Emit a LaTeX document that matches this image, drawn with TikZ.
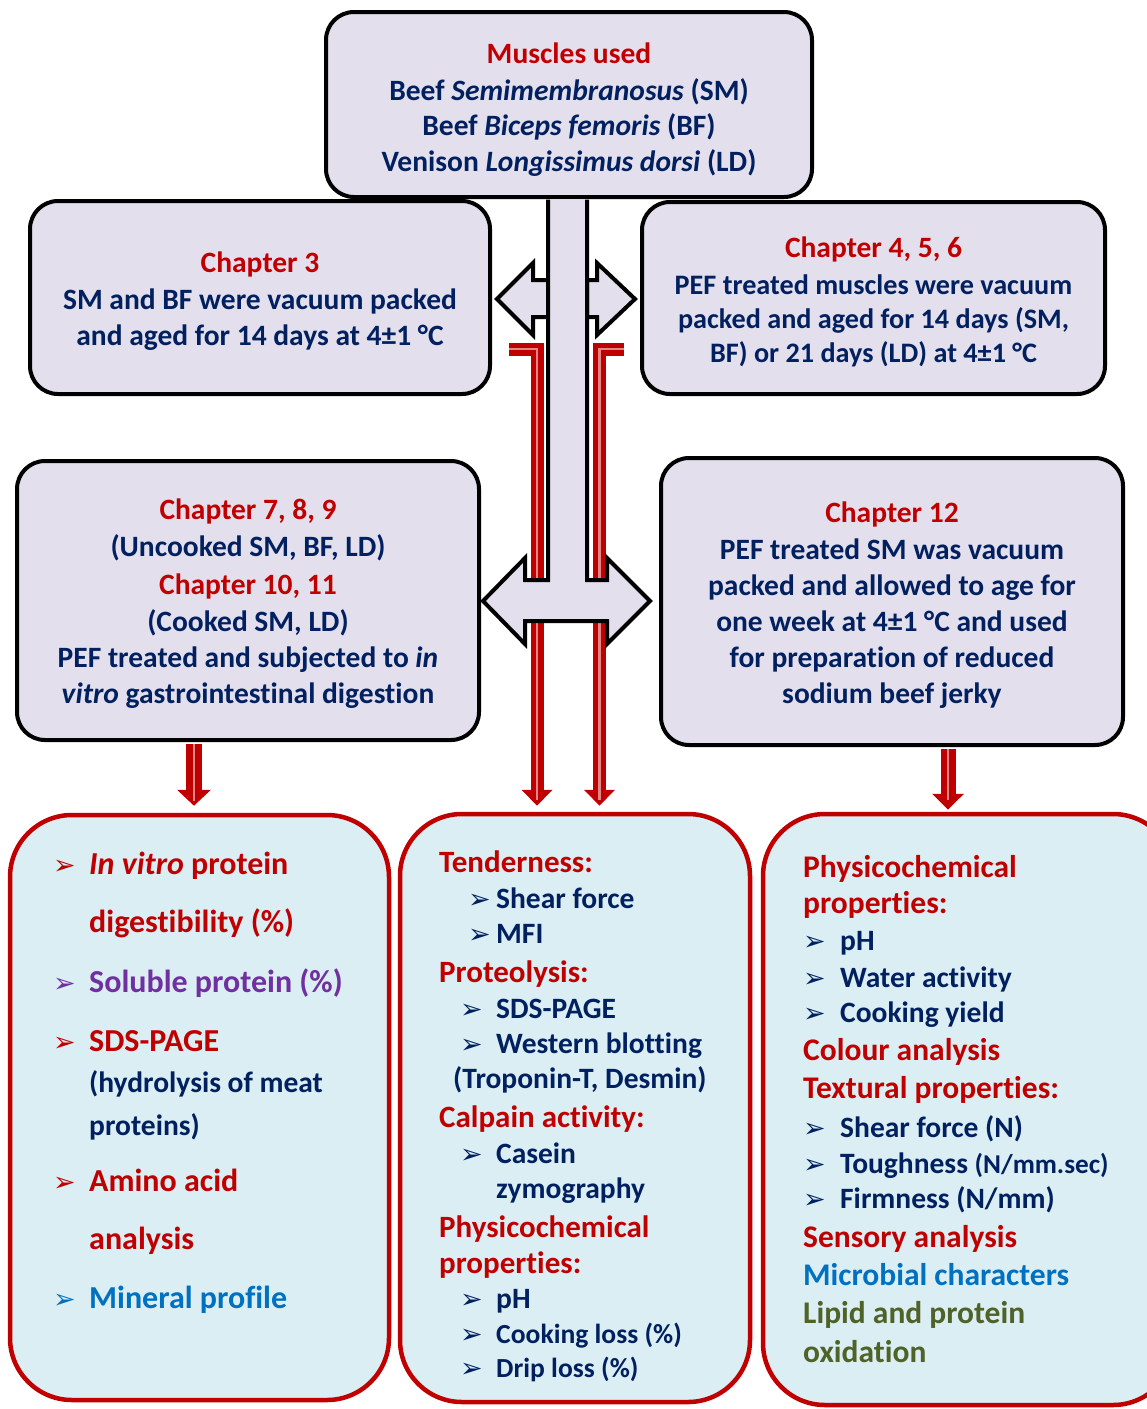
\documentclass[tikz,border=0pt]{standalone}
\usepackage{fontspec}
\setmainfont{Carlito}[Ligatures=NoCommon]
\newfontfamily\symf{DejaVu Sans}
\usetikzlibrary{arrows.meta}

\definecolor{cRed}{HTML}{C00000}
\definecolor{cNavy}{HTML}{002060}
\definecolor{cPurple}{HTML}{7030A0}
\definecolor{cBlue}{HTML}{0070C0}
\definecolor{cOlive}{HTML}{4F6228}
\definecolor{cLav}{HTML}{E4DFEC}
\definecolor{cSky}{HTML}{DAEEF3}
\definecolor{cPink}{HTML}{E08888}

% font size inside a line
\newcommand{\fs}[1]{\fontsize{#1}{36}\selectfont}
% bullet arrowhead, #1 = room before the text
\newcommand{\arw}[1][36pt]{\makebox[#1][l]{{\symf\fontsize{27}{27}\selectfont ➢}}}

\tikzset{
  greybox/.style={draw=black, line width=4pt, fill=cLav, rounded corners=28pt, inner sep=0pt},
  redbox/.style={draw=cRed, line width=4.5pt, fill=cSky, rounded corners=62pt, inner sep=0pt},
  ctxt/.style={anchor=base, inner sep=0pt, text=cNavy, font=\bfseries\fontsize{29.5}{36}\selectfont},
  ltxt/.style={anchor=base west, inner sep=0pt, text=cNavy, font=\bfseries\fontsize{#1}{36}\selectfont},
  redarr/.style={draw=cRed, -{Triangle[width=#1,length=16pt]},
    postaction={draw=cPink, line width=2.5pt, -, shorten >=12pt}}
}

\begin{document}
\begin{tikzpicture}[x=1pt, y=-1pt]
\clip (0,0) rectangle (1147,1409);

% Boxes
\node[greybox, minimum width=486pt, minimum height=185pt] (mus) at (569,104.5) {};
\node[greybox, minimum width=460pt, minimum height=193pt] (ch3) at (260,297.5) {};
\node[greybox, minimum width=463pt, minimum height=192pt] (ch4) at (873.5,298) {};
\node[greybox, minimum width=462pt, minimum height=279pt] (ch7) at (248,600.5) {};
\node[greybox, minimum width=462pt, minimum height=287pt] (ch12) at (892,601.5) {};
\node[redbox, minimum width=379pt, minimum height=585pt] (lft) at (199.5,1107.5) {};
\node[redbox, minimum width=350pt, minimum height=588pt] (mid) at (575,1108) {};
\node[redbox, minimum width=412pt, minimum height=591pt] (rgt) at (969,1109.5) {};

% Red arrows (the two middle ones run behind the shaft)
\draw[redarr=30pt, line width=13pt, shorten >=6pt] (509,349) -| ([xshift=-38pt]mid.north);
\draw[redarr=30pt, line width=13pt, shorten >=6pt] (624,349) -| ([xshift=24.5pt]mid.north);
\draw[redarr=33pt, line width=16pt, shorten <=2pt, shorten >=7pt] ([xshift=-54pt]ch7.south) -- ([xshift=-5.5pt]lft.north);
\draw[redarr=31pt, line width=15pt, shorten <=2pt, shorten >=2pt] ([xshift=56pt]ch12.south) -- ([xshift=-21pt]rgt.north);

% Shaft with side arrows
\draw[line width=4pt, fill=cLav] (548,280) -- (533,280) -- (533,263) -- (497,299) -- (533,335) -- (533,317) -- (548,317) -- cycle;
\draw[line width=4pt, fill=cLav] (587,280) -- (597,280) -- (597,263) -- (635,299) -- (597,335) -- (597,317) -- (587,317) -- cycle;
\draw[line width=4pt, fill=cLav] (548,199.5) -- (548,580) -- (525,580) -- (525,558) -- (483,601) -- (525,644)
  -- (525,621) -- (607,621) -- (607,644) -- (650,601) -- (607,558) -- (607,580) -- (587,580) -- (587,199.5);

% Grey box texts
\foreach \y/\t [count=\i] in {63/{\color{cRed}Muscles used}, 100/{Beef \textit{Semimembranosus} (SM)},
    135/{Beef \textit{Biceps femoris} (BF)}, 171/{Venison \textit{Longissimus dorsi} (LD)}}
  \node[ctxt] (mus\i) at (569,\y) {\t};
\foreach \y/\t [count=\i] in {272/{\color{cRed}Chapter 3}, 309/{SM and BF were vacuum packed},
    345/{and aged for 14 days at 4±1 °C}}
  \node[ctxt] (ch3t\i) at (260,\y) {\t};
\foreach \y/\t [count=\i] in {257/{\color{cRed}\fs{29.5}Chapter 4, 5, 6}, 294/{PEF treated muscles were vacuum},
    328/{packed and aged for 14 days (SM,}, 362/{BF) or 21 days (LD) at 4±1 °C}}
  \node[ctxt, font=\bfseries\fs{28.2}] (ch4t\i) at (873.5,\y) {\t};
\foreach \y/\t [count=\i] in {519/{\color{cRed}Chapter 7, 8, 9}, 556/{(Uncooked SM, BF, LD)},
    594/{\color{cRed}Chapter 10, 11}, 631/{(Cooked SM, LD)},
    667/{PEF treated and subjected to \textit{in}}, 703/{\textit{vitro} gastrointestinal digestion}}
  \node[ctxt] (ch7t\i) at (248,\y) {\t};
\foreach \y/\t [count=\i] in {522/{\color{cRed}Chapter 12}, 559/{PEF treated SM was vacuum},
    595/{packed and allowed to age for}, 631/{one week at 4±1 °C and used},
    667/{for preparation of reduced}, 703/{sodium beef jerky}}
  \node[ctxt] (ch12t\i) at (892,\y) {\t};

% Left list
\foreach \x/\y/\t [count=\i] in {53/874/{\color{cRed}\arw\textit{In vitro} protein},
    89/932/{\color{cRed}digestibility (\%)}, 53/992/{\color{cPurple}\arw Soluble protein (\%)},
    53/1051/{\color{cRed}\arw SDS-PAGE}, 89/1092/{\fs{29.5}(hydrolysis of meat}, 89/1135/{\fs{29.5}proteins)},
    53/1191/{\color{cRed}\arw Amino acid}, 89/1249/{\color{cRed}analysis},
    53/1308/{\color{cBlue}\arw Mineral profile}}
  \node[ltxt=32] (l\i) at (\x,\y) {\t};

% Middle list
\foreach \x/\y/\t [count=\i] in {439/872/{\color{cRed}\fs{31}Tenderness:}, 468/908/{\arw[28pt]Shear force},
    468/943/{\arw[28pt]MFI}, 439/982/{\color{cRed}\fs{31}Proteolysis:}, 460/1018/{\arw SDS-PAGE},
    460/1053/{\arw Western blotting}, 453/1088/{(Troponin-T, Desmin)},
    439/1127/{\color{cRed}\fs{31}Calpain activity:}, 460/1163/{\arw Casein}, 496/1198/{zymography},
    439/1237/{\color{cRed}\fs{31}Physicochemical}, 439/1273/{\color{cRed}\fs{31}properties:},
    460/1308/{\arw pH}, 460/1343/{\fs{27.6}\arw Cooking loss (\%)}, 460/1377/{\fs{27.6}\arw Drip loss (\%)}}
  \node[ltxt=29.5] (m\i) at (\x,\y) {\t};

% Right list
\foreach \x/\y/\t [count=\i] in {803/877/{\color{cRed}\fs{31.5}Physicochemical}, 803/913/{\color{cRed}\fs{31.5}properties:},
    803/950/{\arw[37pt]pH}, 803/987/{\arw[37pt]Water activity}, 803/1022/{\arw[37pt]Cooking yield},
    803/1060/{\color{cRed}\fs{31.5}Colour analysis}, 803/1098/{\color{cRed}\fs{31.5}Textural properties:},
    803/1137/{\arw[37pt]Shear force (N)}, 803/1173/{\arw[37pt]Toughness {\fs{27.2}(N/mm.sec)}},
    803/1208/{\arw[37pt]Firmness (N/mm)}, 803/1247/{\color{cRed}\fs{31.5}Sensory analysis},
    803/1285/{\color{cBlue}\fs{31.5}Microbial characters}, 803/1323/{\color{cOlive}\fs{31.5}Lipid and protein},
    803/1362/{\color{cOlive}\fs{31.5}oxidation}}
  \node[ltxt=29.5] (r\i) at (\x,\y) {\t};

\end{tikzpicture}
\end{document}
